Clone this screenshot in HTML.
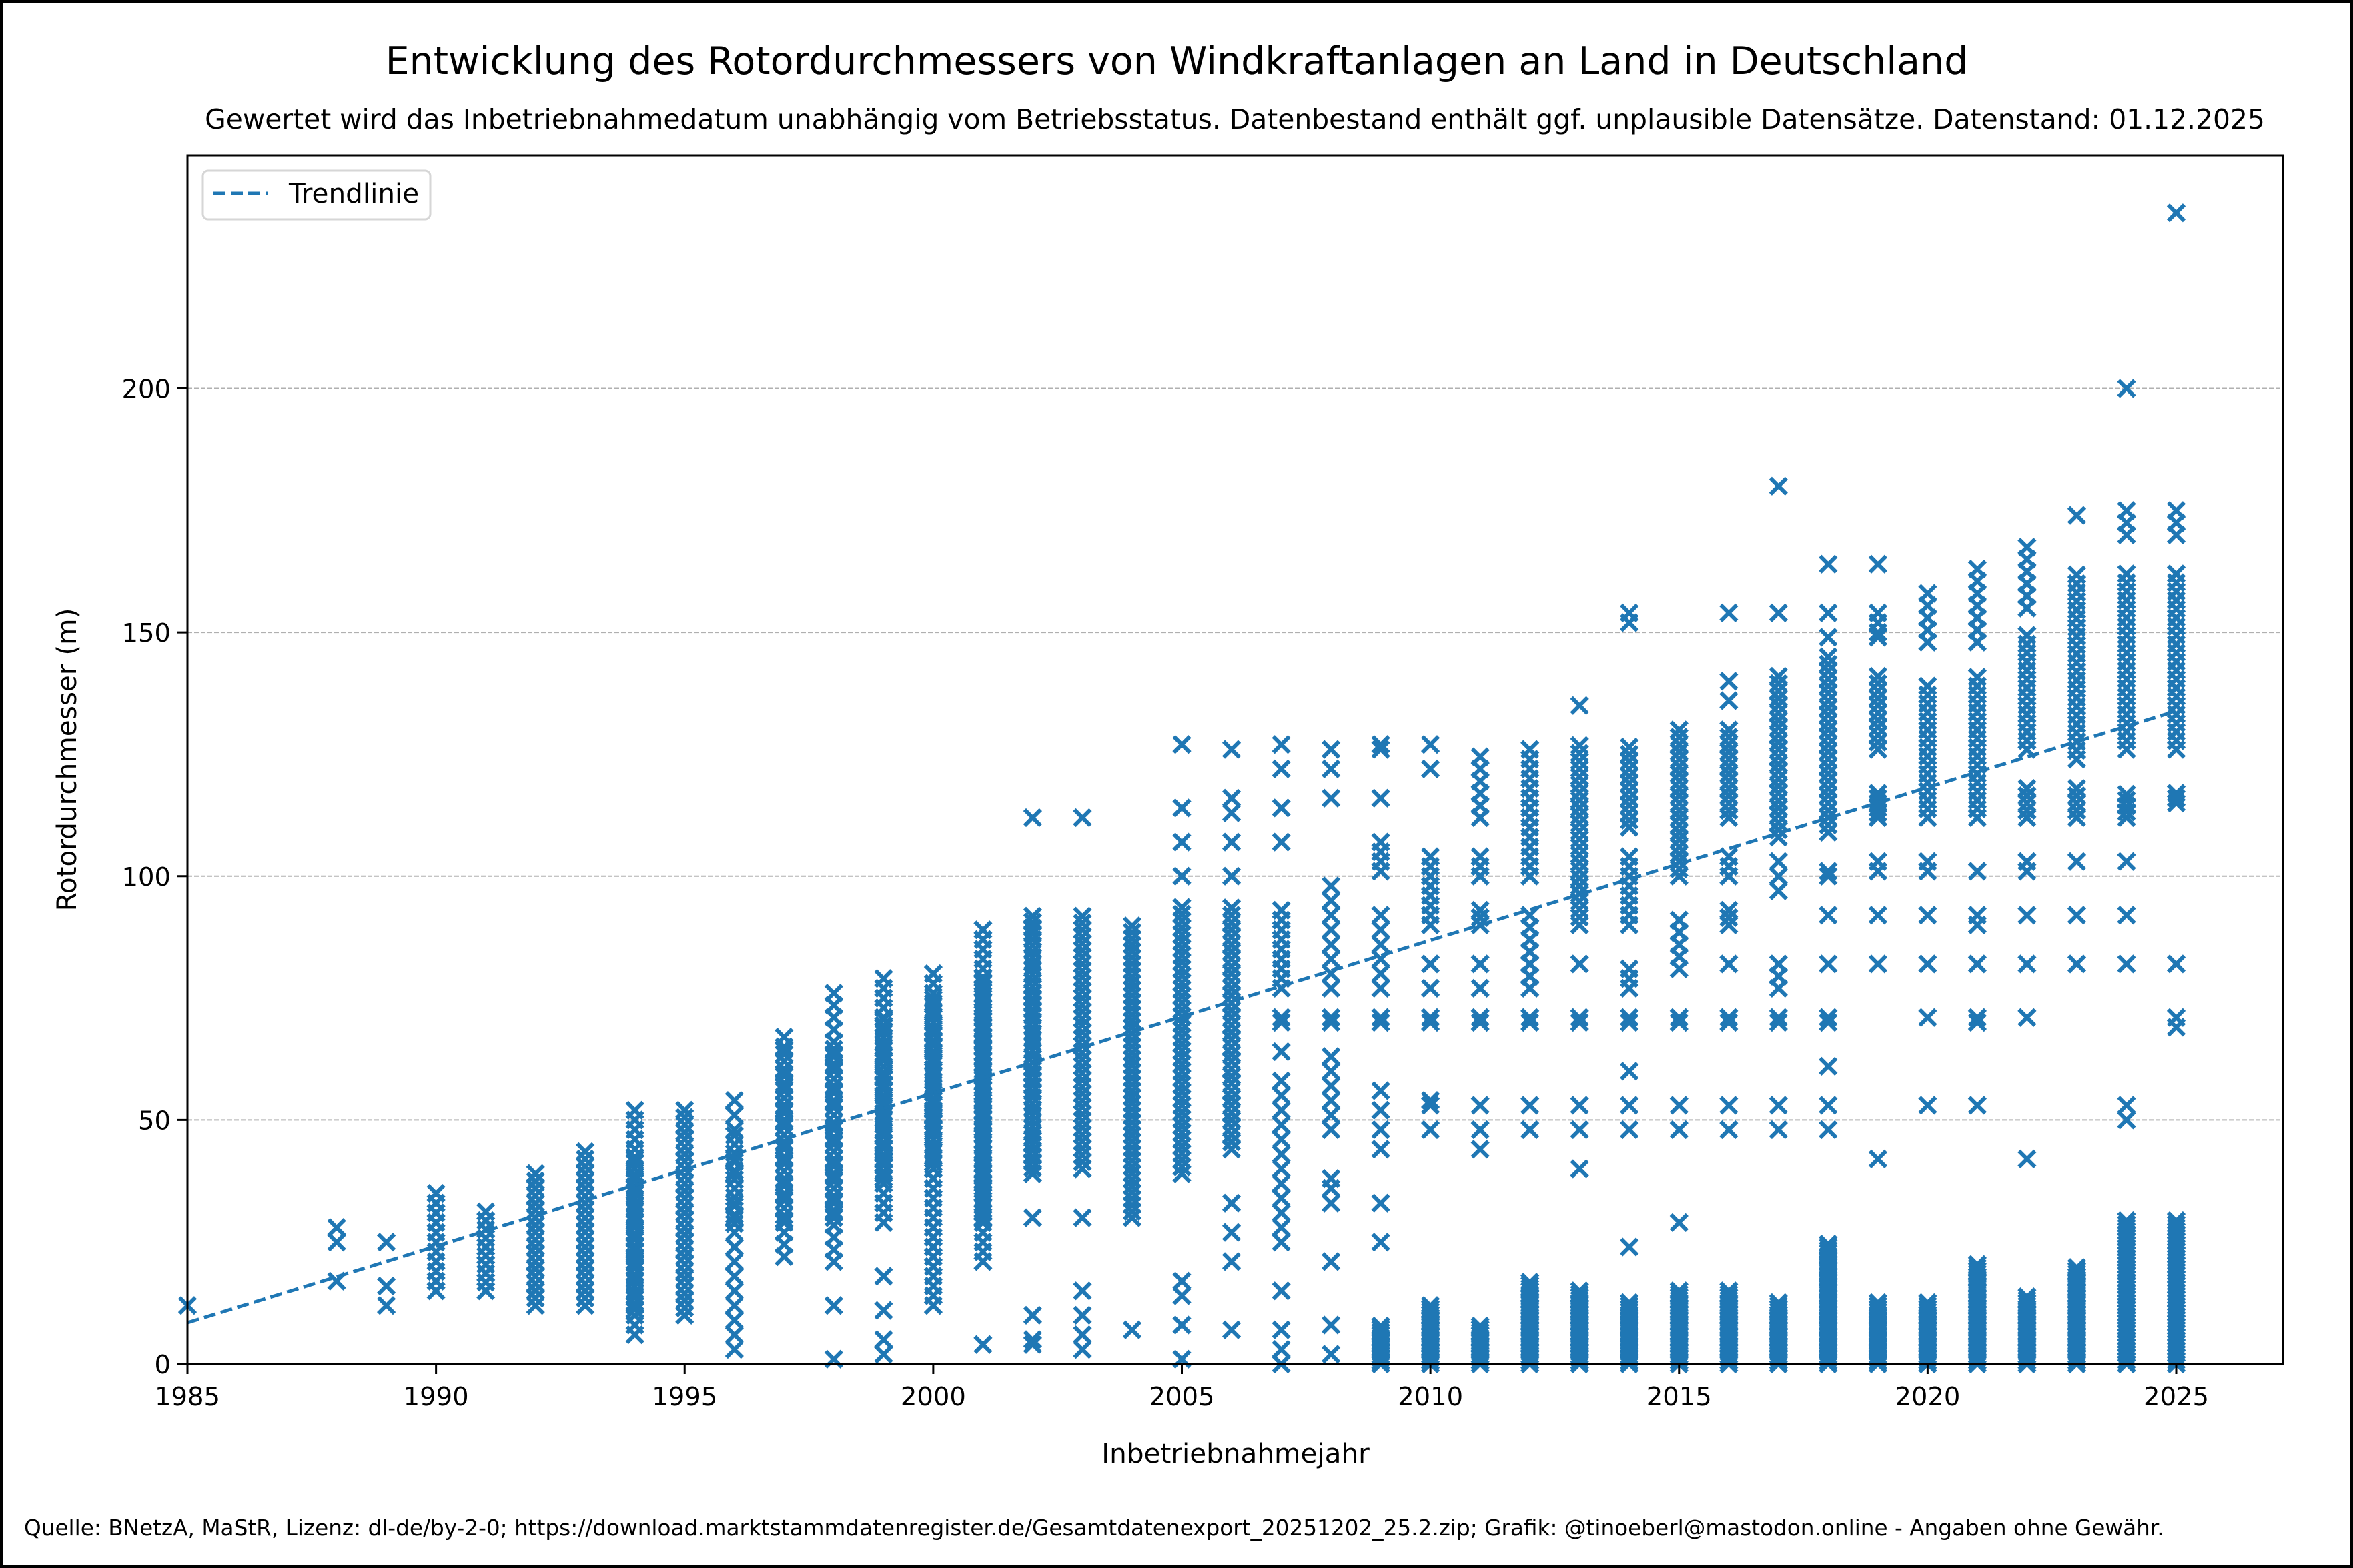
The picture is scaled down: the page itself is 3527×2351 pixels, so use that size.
<!DOCTYPE html>
<html><head><meta charset="utf-8"><style>
html,body{margin:0;padding:0;background:#fff}
svg{display:block}
text{font-family:"DejaVu Sans","Liberation Sans",sans-serif;fill:#000}
</style></head><body>
<svg id="s" width="3527" height="2351" viewBox="0 0 3527 2351" xmlns="http://www.w3.org/2000/svg">
<rect x="2.5" y="2.5" width="3522" height="2346" fill="#fff" stroke="#000" stroke-width="5"/>
<text x="1764" y="111" font-size="57" text-anchor="middle">Entwicklung des Rotordurchmessers von Windkraftanlagen an Land in Deutschland</text>
<text x="1851" y="193" font-size="40.8" text-anchor="middle">Gewertet wird das Inbetriebnahmedatum unabhängig vom Betriebsstatus. Datenbestand enthält ggf. unplausible Datensätze. Datenstand: 01.12.2025</text>
<g stroke="#b0b0b0" stroke-width="2" stroke-dasharray="7,3">
<line x1="281" x2="3422" y1="1679.4" y2="1679.4"/><line x1="281" x2="3422" y1="1313.8" y2="1313.8"/><line x1="281" x2="3422" y1="948.1" y2="948.1"/><line x1="281" x2="3422" y1="582.5" y2="582.5"/>
</g>
<path id="pts" fill="none" stroke="#1f77b4" stroke-width="6"/>
<line x1="281" y1="1983" x2="3262" y2="1066" stroke="#1f77b4" stroke-width="5" stroke-dasharray="18,8"/>
<rect x="281" y="233" width="3141" height="1812" fill="none" stroke="#000" stroke-width="3"/>
<g id="ticks" stroke="#000" stroke-width="3"></g>
<g id="tl" font-size="38.5"></g>
<text x="1852" y="2193" font-size="40.5" text-anchor="middle">Inbetriebnahmejahr</text>
<text transform="translate(114,1139) rotate(-90)" font-size="40.5" text-anchor="middle">Rotordurchmesser (m)</text>
<rect x="304" y="256" width="341" height="73" rx="8" fill="#fff" stroke="#d6d6d6" stroke-width="3"/>
<line x1="320" y1="290" x2="402" y2="290" stroke="#1f77b4" stroke-width="5" stroke-dasharray="18,8"/>
<text x="433" y="304" font-size="40.5">Trendlinie</text>
<text x="36" y="2302" font-size="32.7">Quelle: BNetzA, MaStR, Lizenz: dl-de/by-2-0; https://download.marktstammdatenregister.de/Gesamtdatenexport_20251202_25.2.zip; Grafik: @tinoeberl@mastodon.online - Angaben ohne Gewähr.</text>
</svg>
<script>
var X=function(y){return 281+(y-1985)*74.525},Y=function(v){return 2045-v*7.3125};
var ticks=document.getElementById('ticks'),tl=document.getElementById('tl'),h='',t='';
for(var y=1985;y<=2025;y+=5){var x=X(y);h+='<line x1="'+x+'" x2="'+x+'" y1="2045" y2="2060"/>';t+='<text x="'+x+'" y="2107" text-anchor="middle">'+y+'</text>';}
for(var v=0;v<=200;v+=50){var yy=Y(v);h+='<line x1="266" x2="281" y1="'+yy+'" y2="'+yy+'"/>';t+='<text x="256" y="'+(yy+14)+'" text-anchor="end">'+v+'</text>';}
ticks.innerHTML=h;tl.innerHTML=t;
var D={
1985:[[12]],1988:[[17,25,28]],1989:[[12,16,25]],1990:[[15,35,2]],1991:[[15,33,1.8]],1992:[[12,39,1.5]],1993:[[12,44,1.5]],
1994:[[6,52,2],[10,43,1.2]],1995:[[10,52,1.5]],1996:[[3,54,3],[27,47,1.8]],1997:[[22,68,2.5],[29,66,1.5]],
1998:[[1,12],[21,77,2.5],[30,66,1.5]],1999:[[2,5,11,18],[29,80,2],[37,71,1.2]],2000:[[12,80,2],[40,77,1.2]],
2001:[[4],[21,90,2],[30,80,1.2]],2002:[[4,5,10,30,112],[39,92,1.2]],2003:[[3,6,10,15,30,112],[40,93,1.4]],
2004:[[7,113,116],[30,90,1.3]],2005:[[1,8,14,17,100,107,114,127],[39,94,1.4]],2006:[[7,21,27,33,100,107,113,116,126],[44,94,1.5]],
2007:[[0,3,7,15,64,70,71,107,114,122,127],[25,58,3],[77,93,2]],2008:[[2,8,21,33,36,38,70,71,116,122,126],[48,63,3],[77,100,3]],
2009:[[25,33,70,71,116,126,127],[0,8,0.6],[44,58,4],[77,93,3],[101,107,2]],
2010:[[48,53,54,70,71,77,82,122,127],[0,12,0.6],[90,104,2]],2011:[[44,48,53,70,71,77,82],[0,8,0.6],[90,93,1.5],[100,104,2],[112,126,2.5]],
2012:[[48,53,70,71],[0,17,0.6],[77,93,2.5],[100,127,2]],2013:[[40,48,53,70,71,82,135],[0,15,0.6],[90,127,1.6]],
2014:[[24,48,53,60,70,71,152,154],[0,13,0.6],[77,82,2],[90,104,2],[110,127,1.5]],2015:[[29,48,53,70,71],[0,15,0.6],[81,93,2.5],[100,131,1.5]],
2016:[[48,53,70,71,82,136,140,154],[0,15,0.6],[90,93,1.5],[100,105,2],[112,131,1.5]],2017:[[48,53,70,71,154,180],[0,13,0.6],[77,84,2.5],[97,104,3],[108,142,1.5]],
2018:[[48,53,61,70,71,82,92,100,101,149,154,164],[0,25,0.6],[109,145,1.5]],
2019:[[42,82,92,101,103,149,150,152,154,164],[0,13,0.6],[112,117,1],[126,141,1.5]],
2020:[[53,71,82,92,101,103],[0,13,0.6],[112,140,1.8],[148,158,2.5]],2021:[[53,70,71,82,90,92,101],[0,21,0.6],[112,142,1.8],[148,163,2.5]],
2022:[[42,71,82,92,101,103],[0,14,0.6],[112,118,1.5],[126,150,1.8],[155,169,2.5]],2023:[[82,92,103,174],[0,20,0.6],[112,118,1.5],[124,163,1.8]],
2024:[[50,53,82,92,103,200],[0,30,0.7],[112,118,1.2],[126,163,1.8],[170,175,2.5]],2025:[[69,71,82,236],[0,30,0.7],[115,117,1],[126,163,1.8],[170,175,2.5]]};
var d='',s=12;
function m(x,y){d+='M'+(x-s).toFixed(1)+' '+(y-s).toFixed(1)+'l24 24m0 -24l-24 24';}
for(var k in D){var x=X(+k);D[k].forEach(function(a,i){
 if(i>0||(a.length===3&&+k>=1990)){for(var v=a[0];v<=a[1];v+=a[2])m(x,Y(v));}
 else a.forEach(function(v){m(x,Y(v));});});}
document.getElementById('pts').setAttribute('d',d);
</script>
</body></html>
